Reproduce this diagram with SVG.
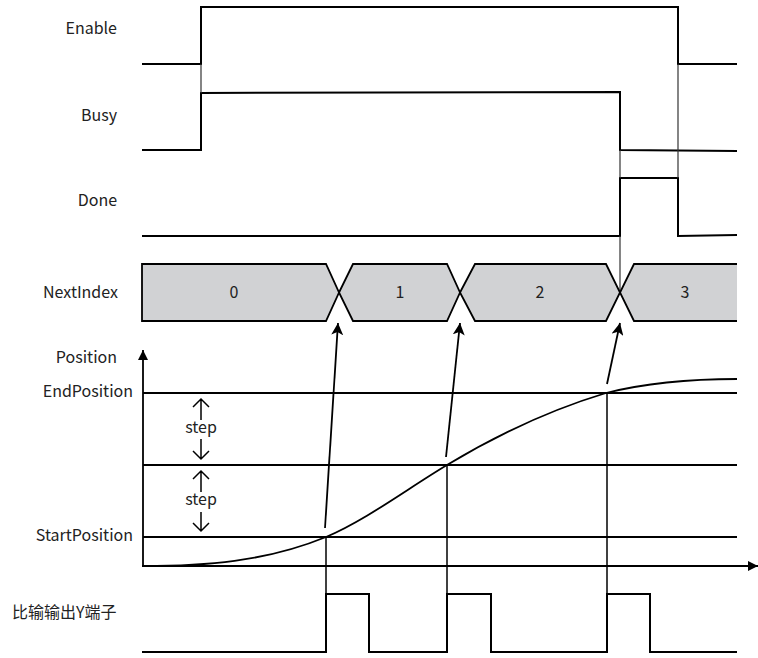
<svg xmlns="http://www.w3.org/2000/svg" width="758" height="658" viewBox="0 0 758 658">
<defs>
<style>
.sig{fill:none;stroke:#000;stroke-width:2;stroke-linejoin:miter}
.guide{fill:none;stroke:#333;stroke-width:1.2}
.ln{fill:none;stroke:#000;stroke-width:1.8}
.thin{fill:none;stroke:#000;stroke-width:1.5}
.bus{fill:#d1d2d4;stroke:#000;stroke-width:1.8;stroke-linejoin:miter}
.lbl{font-family:"Noto Sans CJK SC","Noto Sans",sans-serif;font-size:16px;fill:#222}
.r{text-anchor:end}
.c{text-anchor:middle}
</style>
<marker id="ah" viewBox="0 0 12 12" refX="12" refY="6" markerWidth="12" markerHeight="12" markerUnits="userSpaceOnUse" orient="auto">
<path d="M0,0 L12,6 L0,12 L3,6 z" fill="#000"/>
</marker>
<marker id="axh" viewBox="0 0 10 10" refX="10" refY="5" markerWidth="10" markerHeight="10" markerUnits="userSpaceOnUse" orient="auto">
<path d="M0,0 L10,5 L0,10 z" fill="#000"/>
</marker>
</defs>

<g id="labels">
<text class="lbl r" x="117" y="34">Enable</text>
<text class="lbl r" x="117" y="121">Busy</text>
<text class="lbl r" x="117" y="206">Done</text>
<text class="lbl r" x="118" y="298">NextIndex</text>
<text class="lbl r" x="117" y="363">Position</text>
<text class="lbl r" x="133" y="397">EndPosition</text>
<text class="lbl r" x="133" y="541">StartPosition</text>
<text class="lbl" x="12" y="618">比输输出Y端子</text>
</g>

<g id="enable">
<polyline class="sig" points="142,64 201,64 201,7 678,7 678,64 737,64"/>
</g>
<g id="busy">
<polyline class="sig" points="142,150 201,150 201,93 620,92 620,150 737,151"/>
</g>
<g id="done">
<polyline class="sig" points="142,236 620,236 620,178 678,178 678,236 737,235"/>
</g>

<g id="guides">
<line class="guide" x1="201" y1="64" x2="201" y2="93"/>
<line class="guide" x1="678" y1="64" x2="678" y2="178"/>
<line class="guide" x1="620" y1="150" x2="620" y2="178"/>
<line class="guide" x1="620" y1="236" x2="620" y2="292"/>
</g>

<g id="nextindex">
<polygon class="bus" points="142,264 326,264 339,292.5 326,321 142,321"/>
<polygon class="bus" points="339,292.5 353,264 447,264 460,292.5 447,321 353,321"/>
<polygon class="bus" points="460,292.5 475,264 606,264 620,292.5 606,321 475,321"/>
<path class="bus" d="M737,264 L634,264 L620,292.5 L634,321 L737,321"/>
<text class="lbl c" x="234" y="298">0</text>
<text class="lbl c" x="400" y="298">1</text>
<text class="lbl c" x="540" y="298">2</text>
<text class="lbl c" x="685" y="298">3</text>
</g>

<g id="position-axes">
<line class="ln" x1="143" y1="567" x2="143" y2="350" marker-end="url(#axh)"/>
<line class="ln" x1="142" y1="566" x2="758" y2="566" marker-end="url(#axh)"/>
<line class="ln" x1="143" y1="393" x2="737" y2="393"/>
<line class="ln" x1="143" y1="465" x2="737" y2="465"/>
<line class="ln" x1="143" y1="537" x2="737" y2="537"/>
</g>

<g id="steps">
<path class="thin" d="M201,399 V420 M193,407 L201,399 L209,407"/>
<text class="lbl c" x="201" y="433">step</text>
<path class="thin" d="M201,439 V459 M193,451 L201,459 L209,451"/>
<path class="thin" d="M201,471 V492 M193,479 L201,471 L209,479"/>
<text class="lbl c" x="201" y="505">step</text>
<path class="thin" d="M201,512 V531 M193,523 L201,531 L209,523"/>
</g>

<g id="curve">
<path class="ln" d="M143,566 C204,566 265,562 326,537 C366,520 407,489 447,465 C500,433 553,409 606,393 C650,382 693,379 737,379"/>
</g>

<g id="connectors">
<line class="thin" x1="326" y1="537" x2="326" y2="652"/>
<line class="thin" x1="447" y1="465" x2="447" y2="652"/>
<line class="thin" x1="607" y1="393" x2="607" y2="652"/>
<line class="ln" x1="325" y1="528" x2="338" y2="323" marker-end="url(#ah)"/>
<line class="ln" x1="446" y1="457" x2="460" y2="323" marker-end="url(#ah)"/>
<line class="ln" x1="607" y1="384" x2="620" y2="323" marker-end="url(#ah)"/>
</g>

<g id="output-y">
<polyline class="sig" points="142,652 326,652 326,594 369,594 369,652 447,652 447,594 491,594 491,652 607,652 607,594 650,594 650,652 737,652"/>
</g>
</svg>
